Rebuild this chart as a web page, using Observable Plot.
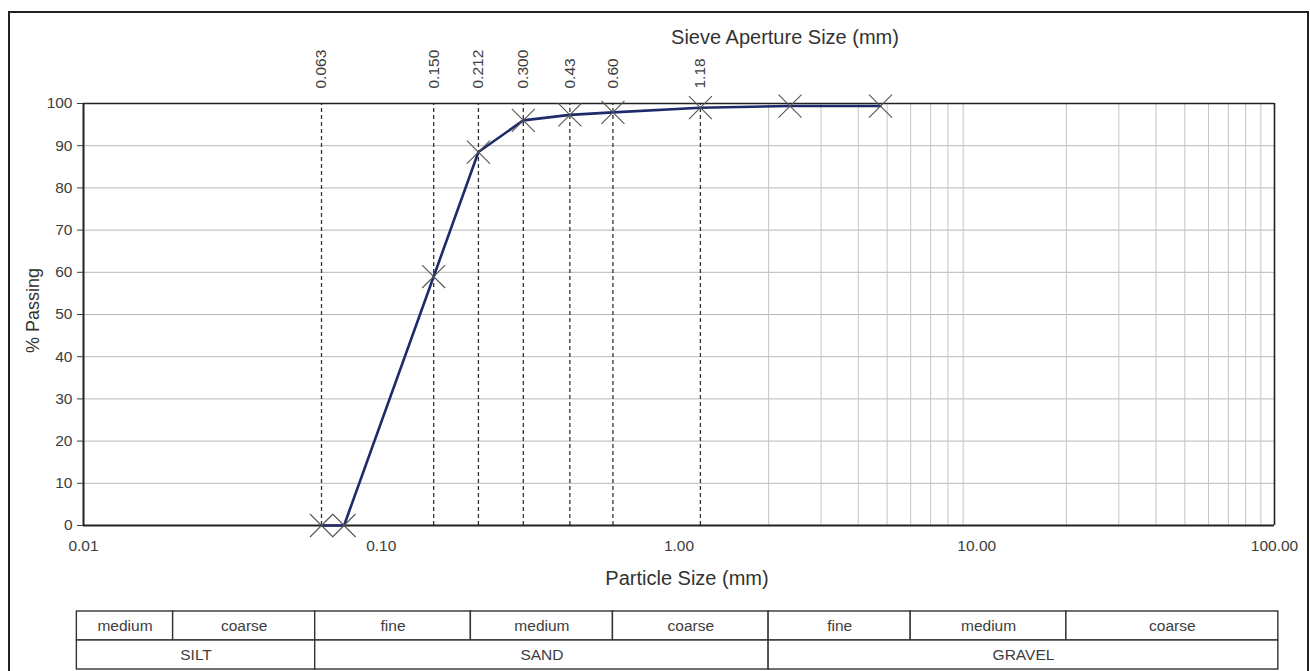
<!DOCTYPE html>
<html>
<head>
<meta charset="utf-8">
<script src="https://cdn.jsdelivr.net/npm/d3@7"></script>
<script src="https://cdn.jsdelivr.net/npm/@observablehq/plot@0.6"></script>
<style>
  html, body { margin: 0; padding: 0; background: #fff; }
  #wrap { position: relative; width: 1310px; height: 671px; overflow: hidden; font-family: "Liberation Sans", Arial, sans-serif; }
  #frame { position: absolute; left: 8px; top: 11px; width: 1301px; height: 700px; border: 2.5px solid #222; box-sizing: border-box; }
  #chart { position: absolute; left: 0; top: 0; }
  #table { position: absolute; left: 0; top: 609px; }
</style>
</head>
<body>
<div id="wrap">
  <div id="frame"></div>
  <div id="chart"></div>
  <div id="table"></div>
</div>
<script>
// ---- data ----
const sizes   = [0.063, 0.075, 0.150, 0.212, 0.300, 0.43, 0.60, 1.18, 2.36, 4.75];
const passing = [0,     0,     59,    88.5,  96,    97.3, 97.9, 99.0, 99.4, 99.4];

const sieveSizes  = [0.063, 0.150, 0.212, 0.300, 0.43, 0.60, 1.18];
const sieveLabels = ["0.063", "0.150", "0.212", "0.300", "0.43", "0.60", "1.18"];

const xTicks      = [0.01, 0.1, 1, 10, 100];
const xTickLabels = ["0.01", "0.10", "1.00", "10.00", "100.00"];
const yTicks      = [0, 10, 20, 30, 40, 50, 60, 70, 80, 90, 100];
const xGridLines  = [2, 3, 4, 5, 6, 7, 8, 9, 20, 30, 40, 50, 60, 70, 80, 90];

const subNames  = ["medium", "coarse", "fine", "medium", "coarse", "fine", "medium", "coarse"];
const subEdges  = [0.0095, 0.02, 0.06, 0.2, 0.6, 2, 6, 20, 103];
const mainNames = ["SILT", "SAND", "GRAVEL"];
const mainEdges = [0.0095, 0.06, 2, 103];

// ---- build tables ----
const pts = sizes.map((s, i) => ({size: s, pass: passing[i]}));
const sieves = sieveSizes.map((s, i) => ({size: s, label: sieveLabels[i]}));
const cells = [
  ...subNames.map((n, i) => ({row: "sub", name: n, x1: subEdges[i], x2: subEdges[i + 1]})),
  ...mainNames.map((n, i) => ({row: "main", name: n, x1: mainEdges[i], x2: mainEdges[i + 1]}))
].map(d => ({...d, xm: Math.sqrt(d.x1 * d.x2)}));

const W = 1310, ML = 83, MR = 36;
const font = "'Liberation Sans', Arial, sans-serif";

const chart = Plot.plot({
  width: W, height: 600,
  marginLeft: ML, marginRight: MR, marginTop: 103, marginBottom: 75,
  style: {fontFamily: font, fontSize: "15px", color: "#3d3d3d", background: "transparent"},
  x: {type: "log", domain: [0.01, 100]},
  y: {domain: [0, 100]},
  marks: [
    Plot.ruleY(yTicks.filter(v => v > 0 && v < 100), {stroke: "#b8b8b8", strokeWidth: 1}),
    Plot.ruleX(xGridLines, {y1: 0, y2: 100, stroke: "#c4c4c4", strokeWidth: 1}),
    Plot.ruleX(sieves, {x: "size", y1: 0, y2: 100, stroke: "#333", strokeWidth: 1.3, strokeDasharray: "4,3"}),
    Plot.ruleY([100], {stroke: "#222", strokeWidth: 1.6}),
    Plot.ruleX([100], {stroke: "#222", strokeWidth: 1.6}),
    Plot.ruleY([0], {stroke: "#222", strokeWidth: 2}),
    Plot.ruleX([0.01], {stroke: "#222", strokeWidth: 2}),
    Plot.axisY({ticks: yTicks, tickSize: 6, tickPadding: 5, label: null, fontSize: 15.5}),
    Plot.axisX({ticks: xTicks, tickFormat: d => xTickLabels[xTicks.indexOf(d)], tickSize: 0, tickPadding: 14, label: null, fontSize: 15.5}),
    Plot.text(sieves, {x: "size", text: "label", frameAnchor: "top", dy: -15, rotate: -90, textAnchor: "start", lineAnchor: "middle", fontSize: 15.5, fill: "#3d3d3d"}),
    Plot.text(["Sieve Aperture Size (mm)"], {frameAnchor: "top", dx: 106, dy: -66, lineAnchor: "middle", textAnchor: "middle", fontSize: 20, fill: "#333"}),
    Plot.text(["Particle Size (mm)"], {frameAnchor: "bottom", dx: 8, dy: 53, lineAnchor: "middle", textAnchor: "middle", fontSize: 20, fill: "#333"}),
    Plot.text(["% Passing"], {frameAnchor: "left", dx: -50, dy: -4, rotate: -90, lineAnchor: "middle", textAnchor: "middle", fontSize: 18, fill: "#333"}),
    Plot.line(pts, {x: "size", y: "pass", stroke: "#1f2a6b", strokeWidth: 2.6}),
    Plot.dot(pts, {x: "size", y: "pass", symbol: "times", r: 10.5, stroke: "#555", strokeWidth: 1.1})
  ]
});
document.getElementById("chart").appendChild(chart);

const table = Plot.plot({
  width: W, height: 61,
  marginLeft: ML, marginRight: MR, marginTop: 1, marginBottom: 1,
  style: {fontFamily: font, fontSize: "15px", color: "#3d3d3d", background: "transparent"},
  x: {type: "log", domain: [0.01, 100], axis: null},
  y: {type: "band", domain: ["sub", "main"], padding: 0, axis: null},
  marks: [
    Plot.barX(cells, {x1: "x1", x2: "x2", y: "row", fill: "white", stroke: "#333", strokeWidth: 1.4}),
    Plot.text(cells, {x: "xm", y: "row", text: "name", fontSize: 15.5, fill: "#3d3d3d"})
  ]
});
document.getElementById("table").appendChild(table);
</script>
</body>
</html>
